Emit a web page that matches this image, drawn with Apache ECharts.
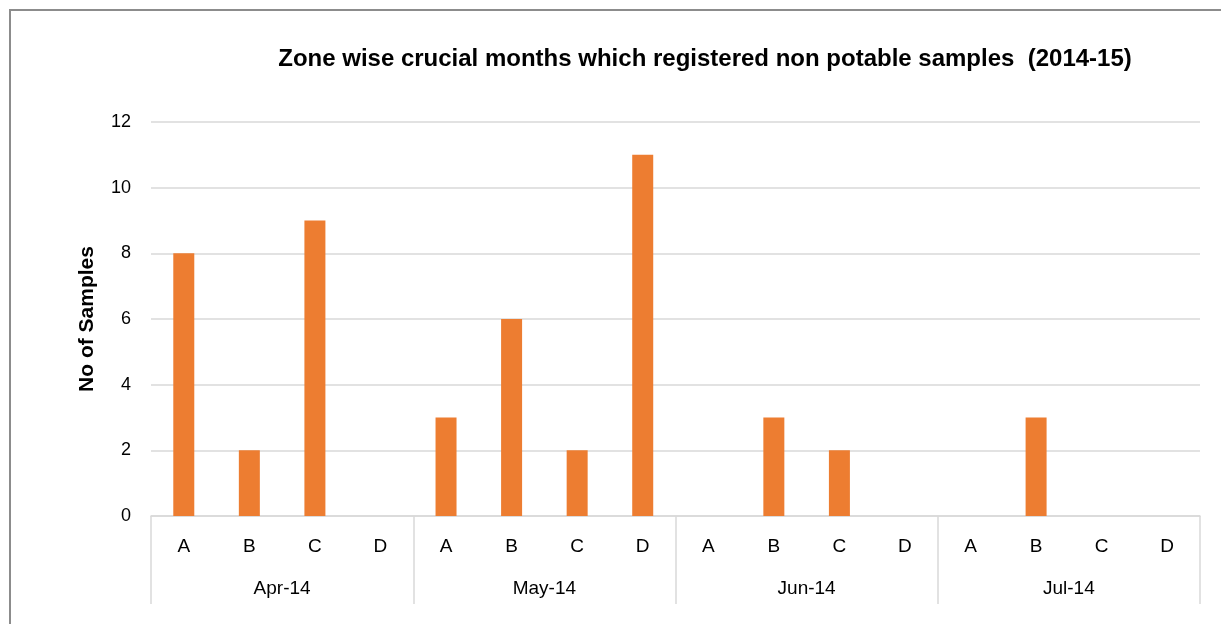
<!DOCTYPE html>
<html>
<head>
<meta charset="utf-8">
<script src="https://cdn.jsdelivr.net/npm/echarts@6/dist/echarts.min.js"></script>
<style>
  html, body { margin: 0; padding: 0; background: #fff; }
  #chart { width: 1221px; height: 624px; }
</style>
</head>
<body>
<div id="chart"></div>
<script>
// zones inside each month
const zones = ['A', 'B', 'C', 'D'];
const months = ['Apr-14', 'May-14', 'Jun-14', 'Jul-14'];
// non potable samples per zone, month by month
const apr14 = [8, 2, 9, 0];
const may14 = [3, 6, 2, 11];
const jun14 = [0, 3, 2, 0];
const jul14 = [0, 3, 0, 0];

const zoneLabels = [].concat(zones, zones, zones, zones);
const samples = [].concat(apr14, may14, jun14, jul14);

const chart = echarts.init(document.getElementById('chart'));
const font = 'Liberation Sans, Arial, sans-serif';

const option = {
  animation: false,
  textStyle: { fontFamily: font },
  title: {
    text: 'Zone wise crucial months which registered non potable samples  (2014-15)',
    left: 700,
    textAlign: 'center',
    top: 42,
    textStyle: { fontSize: 24, fontWeight: 'bold', color: '#000', fontFamily: font }
  },
  graphic: [
    {
      // outer chart frame
      type: 'rect',
      shape: { x: 10, y: 10, width: 1300, height: 700 },
      style: { fill: 'none', stroke: '#8c8c8c', lineWidth: 2 },
      silent: true
    }
  ],
  grid: { left: 151, right: 21, top: 122, bottom: 108 },
  xAxis: [
    {
      type: 'category',
      data: zoneLabels,
      axisLine: { lineStyle: { color: '#d9d9d9', width: 1.5 } },
      axisTick: { show: false },
      axisLabel: { color: '#000', fontSize: 19, margin: 21, interval: 0 }
    },
    {
      type: 'category',
      data: months,
      position: 'bottom',
      axisLine: { show: false },
      axisTick: { show: true, length: 88, lineStyle: { color: '#d9d9d9', width: 1.5 } },
      axisLabel: { color: '#000', fontSize: 19, margin: 63, interval: 0 }
    }
  ],
  yAxis: {
    type: 'value',
    min: 0,
    max: 12,
    interval: 2,
    name: 'No of Samples',
    nameLocation: 'middle',
    nameGap: 53,
    nameTextStyle: { fontSize: 21, fontWeight: 'bold', color: '#000', fontFamily: font },
    axisLine: { show: false },
    axisTick: { show: false },
    axisLabel: { color: '#000', fontSize: 18, margin: 20 },
    splitLine: { lineStyle: { color: '#d9d9d9', width: 1.5 } }
  },
  series: [
    {
      name: 'No of Samples',
      type: 'bar',
      xAxisIndex: 0,
      data: samples,
      barWidth: 21,
      itemStyle: { color: '#ED7D31' }
    }
  ]
};

chart.setOption(option);
</script>
</body>
</html>
